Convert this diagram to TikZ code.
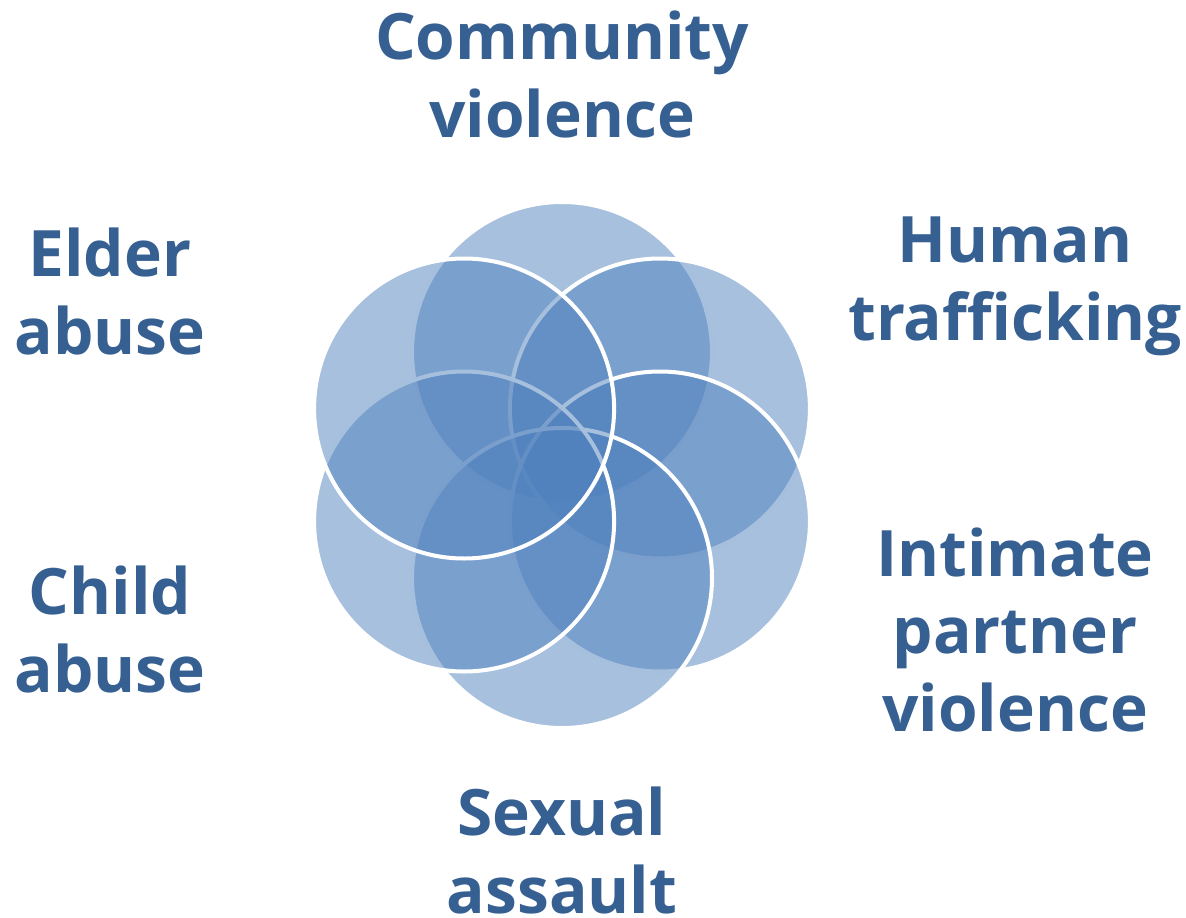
\documentclass[tikz,border=0pt]{standalone}
\usepackage{fontspec}
\setmainfont{Open Sans}
\definecolor{petal}{RGB}{79,129,189}
\definecolor{labelblue}{RGB}{54,96,145}
\begin{document}
\begin{tikzpicture}[x=1pt,y=-1pt,
  petalc/.style={circle, minimum size=300pt, inner sep=0pt, outer sep=0pt,
    fill=petal, fill opacity=0.5, draw=white, draw opacity=1, line width=4pt},
  lbl/.style={anchor=base, align=center, inner sep=0pt, text=labelblue,
    font=\fontsize{64}{77.5}\selectfont\bfseries}]
\useasboundingbox (0,0) rectangle (1186,918);
% petals, drawn clockwise from the top
\node[petalc] (ct) at (562,352) {};
\node[petalc] (cur) at (659.9,408.5) {};
\node[petalc] (clr) at (659.9,521.5) {};
\node[petalc] (cb) at (562,578) {};
\node[petalc] (cll) at (464.1,521.5) {};
\node[petalc] (cul) at (464.1,408.5) {};
% labels (anchor = baseline of the last line)
\node[lbl] (community) at (562,137) {Community\\violence};
\node[lbl] (human) at (1015,340) {Human\\trafficking};
\node[lbl] (intimate) at (1015,731) {Intimate\\partner\\violence};
\node[lbl] (sexual) at (562,913) {Sexual\\assault};
\node[lbl] (child) at (110,692) {Child\\abuse};
\node[lbl] (elder) at (110,354) {Elder\\abuse};
\end{tikzpicture}
\end{document}
